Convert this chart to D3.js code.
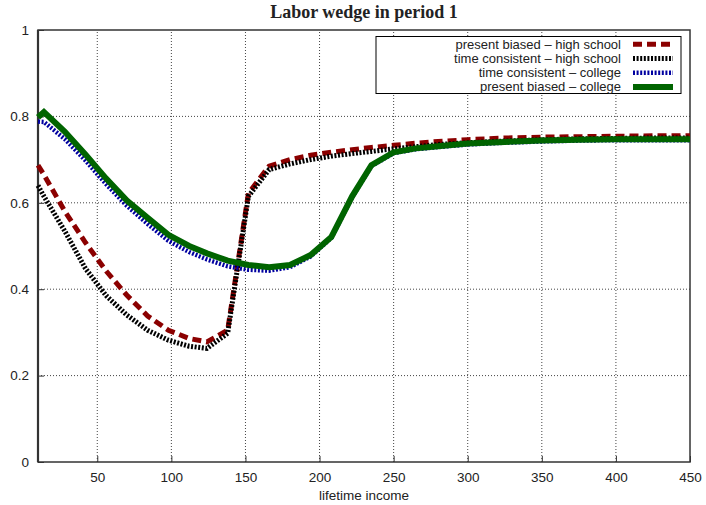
<!DOCTYPE html>
<html>
<head>
<meta charset="utf-8">
<script src="https://cdn.jsdelivr.net/npm/d3@7"></script>
<style>
  body { margin: 0; background: #fff; }
  text { font-family: "Liberation Sans", Arial, sans-serif; fill: #222; }
</style>
</head>
<body>
<div id="chart"></div>
<script>
// lifetime income grid
const incomes = [10, 14, 28, 42, 56, 70, 84, 98, 112, 124, 138, 152, 166, 180, 194, 208, 222, 235, 250, 265, 280, 300, 325, 350, 375, 400, 425, 450];

const pbHigh = [0.687, 0.665, 0.581, 0.508, 0.442, 0.386, 0.338, 0.305, 0.286, 0.278, 0.305, 0.622, 0.685, 0.700, 0.710, 0.717, 0.723, 0.728, 0.733, 0.738, 0.742, 0.746, 0.750, 0.752, 0.753, 0.754, 0.755, 0.755];
const tcHigh = [0.640, 0.615, 0.535, 0.448, 0.385, 0.340, 0.305, 0.282, 0.268, 0.263, 0.298, 0.615, 0.677, 0.690, 0.700, 0.708, 0.714, 0.719, 0.725, 0.730, 0.735, 0.739, 0.743, 0.746, 0.748, 0.749, 0.750, 0.750];
const tcCollege = [0.788, 0.787, 0.748, 0.698, 0.643, 0.593, 0.551, 0.512, 0.486, 0.469, 0.453, 0.445, 0.443, 0.451, 0.476, 0.519, 0.613, 0.685, 0.715, 0.724, 0.729, 0.735, 0.739, 0.742, 0.744, 0.745, 0.745, 0.745];
const pbCollege = [0.798, 0.810, 0.765, 0.712, 0.656, 0.605, 0.565, 0.526, 0.500, 0.483, 0.466, 0.456, 0.451, 0.456, 0.479, 0.521, 0.615, 0.687, 0.717, 0.726, 0.731, 0.737, 0.741, 0.744, 0.746, 0.747, 0.747, 0.747];

const seriesNames = ["present biased \u2013 high school", "time consistent \u2013 high school", "time consistent \u2013 college", "present biased \u2013 college"];
const xTicks = [50, 100, 150, 200, 250, 300, 350, 400, 450];
const yTicks = [0, 0.2, 0.4, 0.6, 0.8, 1];

const width = 706, height = 505;
const margin = {top: 30, right: 16, bottom: 43, left: 38};

const styles = [
  {color: "#8b0000", w: 5, dash: "9,5"},
  {color: "#000000", w: 5, dash: "2,1.6"},
  {color: "#0000a0", w: 4.5, dash: "2,1.6"},
  {color: "#006400", w: 6, dash: null}
];
const allSeries = [pbHigh, tcHigh, tcCollege, pbCollege];

const svg = d3.select("#chart").append("svg")
  .attr("width", width).attr("height", height);

const x = d3.scaleLinear().domain([10, 450]).range([margin.left, width - margin.right]);
const y = d3.scaleLinear().domain([0, 1]).range([height - margin.bottom, margin.top]);

// grid
svg.append("g").selectAll("line").data(xTicks.filter(d => d < 450)).enter().append("line")
  .attr("x1", d => x(d)).attr("x2", d => x(d))
  .attr("y1", y(0)).attr("y2", y(1))
  .attr("stroke", "#444").attr("stroke-width", 1).attr("stroke-dasharray", "1,2");
svg.append("g").selectAll("line").data(yTicks.filter(d => d > 0 && d < 1)).enter().append("line")
  .attr("x1", x(10)).attr("x2", x(450))
  .attr("y1", d => y(d)).attr("y2", d => y(d))
  .attr("stroke", "#444").attr("stroke-width", 1).attr("stroke-dasharray", "1,2");

// axes
const xAxis = d3.axisBottom(x).tickValues(xTicks).tickSize(-6).tickPadding(10);
const yAxis = d3.axisLeft(y).tickValues(yTicks).tickSize(-6).tickPadding(9)
  .tickFormat(d3.format("~g"));

const gx = svg.append("g").attr("transform", "translate(0," + y(0) + ")").call(xAxis);
const gy = svg.append("g").attr("transform", "translate(" + x(10) + ",0)").call(yAxis);
[gx, gy].forEach(function (g) {
  g.select(".domain").remove();
  g.selectAll(".tick line").attr("stroke", "#333");
  g.selectAll(".tick text").style("font-size", "13.5px").style("font-family", "Liberation Sans, Arial, sans-serif").attr("fill", "#222");
});

// frame
svg.append("rect")
  .attr("x", x(10)).attr("y", y(1))
  .attr("width", x(450) - x(10)).attr("height", y(0) - y(1))
  .attr("fill", "none").attr("stroke", "#333").attr("stroke-width", 1.5);
svg.append("line")
  .attr("x1", x(10)).attr("x2", x(10)).attr("y1", y(0)).attr("y2", y(1))
  .attr("stroke", "#333").attr("stroke-width", 2.2);

// lines
const line = d3.line()
  .x((d, i) => x(incomes[i]))
  .y(d => y(d));

const plot = svg.append("g");
allSeries.forEach(function (s, k) {
  plot.append("path")
    .datum(s)
    .attr("d", line)
    .attr("fill", "none")
    .attr("stroke", styles[k].color)
    .attr("stroke-width", styles[k].w)
    .attr("stroke-dasharray", styles[k].dash)
    .attr("stroke-linejoin", "miter");
});

// legend
const legend = svg.append("g");
legend.append("rect")
  .attr("x", 376).attr("y", 36.5).attr("width", 305).attr("height", 57)
  .attr("fill", "#fff").attr("stroke", "#000").attr("stroke-width", 1);
seriesNames.forEach(function (name, k) {
  const ly = 44.3 + k * 14.2;
  legend.append("text")
    .attr("x", 621).attr("y", ly).attr("dy", "0.35em")
    .attr("text-anchor", "end")
    .style("font-size", "13px")
    .text(name);
  legend.append("line")
    .attr("x1", 633).attr("x2", 673).attr("y1", ly).attr("y2", ly)
    .attr("stroke", styles[k].color)
    .attr("stroke-width", styles[k].w)
    .attr("stroke-dasharray", styles[k].dash);
});

// title and axis label
svg.append("text")
  .attr("x", 364).attr("y", 18)
  .attr("text-anchor", "middle")
  .style("font-family", "Liberation Serif, Times New Roman, serif")
  .style("font-weight", "bold")
  .style("font-size", "18px")
  .attr("fill", "#000")
  .text("Labor wedge in period 1");
svg.append("text")
  .attr("x", 364).attr("y", 500)
  .attr("text-anchor", "middle")
  .style("font-size", "13.5px")
  .text("lifetime income");
</script>
</body>
</html>
